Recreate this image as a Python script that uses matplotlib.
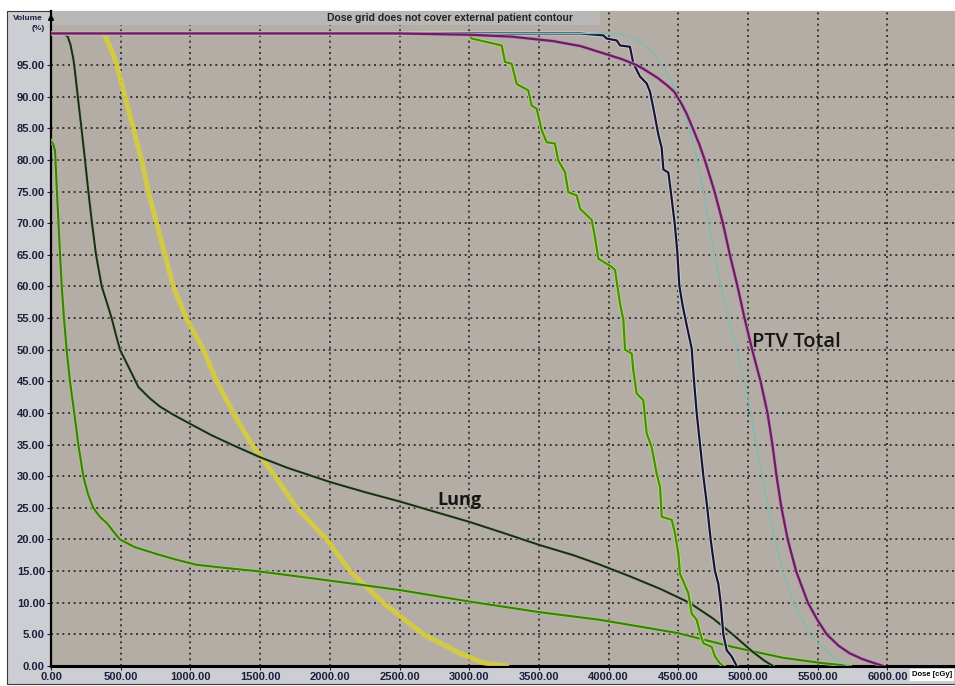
"""Dose volume histogram screenshot, redrawn with matplotlib."""

import matplotlib

matplotlib.use("Agg")

import matplotlib.pyplot as plt
import matplotlib.patheffects as pe
from matplotlib.patches import Rectangle
import numpy as np


# dose in cGy, volume in %
PTV_DOSE = [0, 2500, 3000, 3300, 3600, 3800, 4000, 4100, 4200, 4250, 4350, 4420, 4470,
            4520, 4560, 4600, 4650, 4690, 4760, 4820, 4870, 4925, 4975, 5030, 5090, 5140,
            5175, 5205, 5240, 5285, 5345, 5430, 5500, 5565, 5650, 5730, 5820, 5900, 5970]
PTV_VOL = [100, 100, 99.8, 99.5, 98.8, 98, 96.6, 95.9, 95, 94.4, 93, 91.8, 90.8,
           89, 87.3, 85.2, 82.5, 80, 75, 70, 65, 60, 55, 50, 45, 40,
           35, 30, 25, 20, 15, 10, 7.2, 5, 3.2, 2, 1.1, 0.5, 0]

CTV_DOSE = [0, 4080, 4200, 4300, 4400, 4460, 4500, 4540, 4580, 4635, 4680, 4720, 4760,
            4805, 4860, 4920, 4975, 5020, 5060, 5100, 5144, 5194, 5251, 5330, 5445,
            5520, 5588, 5650, 5720]
CTV_VOL = [100, 100, 99, 97.5, 94.5, 92, 90, 87.5, 85, 80, 75, 70, 65,
           60, 55, 50, 45, 40, 35, 30, 25, 20, 15, 10, 5,
           3.2, 2, 0.8, 0]

GTV_DOSE = [0, 3795, 3962, 3986, 4058, 4082, 4153, 4177, 4225, 4273, 4297, 4321, 4357,
            4381, 4393, 4429, 4453, 4476, 4493, 4507, 4531, 4560, 4596, 4613, 4632,
            4656, 4680, 4708, 4732, 4763, 4787, 4804, 4823, 4847, 4883, 4919]
GTV_VOL = [100, 100, 99.7, 99.2, 98.9, 98.1, 97.9, 95.3, 93.2, 92.1, 90.8, 88.2, 84.0,
           81.9, 78.5, 78.0, 73.8, 69.6, 65.4, 60.2, 57.0, 53.9, 50.2, 45, 40,
           35, 30, 25, 20, 15, 13, 10, 5, 2.5, 1.5, 0]

CORD_DOSE = [0, 2994, 3018, 3233, 3257, 3305, 3341, 3424, 3448, 3484, 3520, 3556, 3615,
             3639, 3687, 3711, 3771, 3795, 3879, 3902, 3926, 4022, 4046, 4082, 4106,
             4118, 4166, 4177, 4201, 4249, 4273, 4309, 4345, 4369, 4381, 4453, 4476,
             4500, 4512, 4572, 4596, 4632, 4656, 4680, 4740, 4763, 4799, 4823]
CORD_VOL = [100, 100, 99.2, 98.1, 95.5, 95.2, 92.0, 91.0, 88.6, 88.1, 84.7, 82.8, 82.6,
            79.9, 78.1, 74.9, 74.4, 72.3, 70.5, 67.8, 64.4, 63.1, 62.6, 57.3, 54.7,
            50, 49.4, 46.8, 43.1, 42.0, 36.8, 34.6, 30.4, 28.3, 23.6, 23.1, 21.0,
            17.8, 14.6, 11.5, 8.3, 7.3, 5.2, 3.6, 3.0, 1.5, 0.4, 0]

LUNG_DOSE = [0, 90, 120, 140, 160, 172, 196, 220, 244, 268, 292, 323, 364, 400, 435,
             470, 495, 567, 627, 710, 782, 880, 997, 1150, 1306, 1500, 1700, 2000,
             2250, 2503, 2750, 2999, 3250, 3508, 3750, 3940, 4150, 4370, 4580, 4750,
             4890, 5036, 5120, 5180]
LUNG_VOL = [100, 100, 99.5, 98.2, 96, 94, 89.3, 84.7, 80, 75, 70.4, 65, 60, 57.5, 55,
            52, 50, 46.8, 44.1, 42.3, 41, 39.7, 38.3, 36.5, 34.9, 33, 31.3, 29.1,
            27.5, 26, 24.4, 22.8, 21, 19.1, 17.5, 16, 14.2, 12.2, 10, 7.5,
            5, 2.2, 0.8, 0]

HEART_DOSE = [0, 15, 29, 41, 53, 65, 77, 84, 93, 112, 136, 167, 196, 232, 265, 303, 350,
              400, 450, 495, 600, 758, 900, 1045, 1250, 1476, 2001, 2504, 2999, 3508,
              3938, 4498, 4893, 5251, 5517, 5730]
HEART_VOL = [83, 82.5, 81.5, 75.7, 70.4, 65, 60, 57.9, 55, 50, 45, 40, 35, 30, 27.2, 25, 23.6,
             22.6, 21.2, 20, 18.8, 17.7, 16.8, 16, 15.5, 15, 13.5, 12, 10.2, 8.5,
             7.3, 5.2, 3, 1.3, 0.5, 0]

ESO_DOSE = [387, 435, 471, 531, 590, 650, 698, 758, 818, 877, 970, 1093, 1189, 1308,
            1440, 1607, 1763, 1978, 2145, 2382, 2671, 2934, 3100, 3270]
ESO_VOL = [99.7, 97.3, 95.1, 90, 85, 80, 75, 70, 65, 60, 55, 50, 45, 40,
           35, 30, 25, 20, 15, 10, 5, 2, 0.5, 0]

X_TICKS = np.arange(0, 6001, 500)
Y_TICKS = np.arange(0, 96, 5)

W, H = 955, 686
X_MAX = (955 - 51) / 0.1394
Y_MAX = 103.55

PLOT_BG = "#B3ADA5"
FRAME_BG = "#CDCED3"
TICK_COLOR = "#1B1F3A"
TICK_FONT = "Liberation Sans"


def halo(color, width):
    return [pe.Stroke(linewidth=width, foreground=color), pe.Normal()]


def main():
    fig = plt.figure(figsize=(W / 100, H / 100), dpi=100, facecolor="white")
    fig.patches.append(Rectangle((7 / W, 2 / H), 1 - 7 / W, 1 - 13 / H, transform=fig.transFigure,
                                 facecolor=FRAME_BG, edgecolor="#3a3a3a", linewidth=0.8, zorder=0))

    ax = fig.add_axes([51 / W, 20 / H, (W - 51) / W, 655 / H])
    ax.set_zorder(2)
    ax.set_facecolor(PLOT_BG)
    ax.set_xlim(0, X_MAX)
    ax.set_ylim(0, Y_MAX)

    ax.set_xticks(X_TICKS)
    ax.set_xticklabels([f"{v:.2f}" for v in X_TICKS])
    ax.set_yticks(Y_TICKS)
    ax.set_yticklabels([f"{v:.2f}" for v in Y_TICKS])
    ax.tick_params(axis="both", labelsize=8, colors=TICK_COLOR, length=3, width=0.8)
    ax.tick_params(axis="x", pad=1.5)
    ax.tick_params(axis="y", pad=1.5)
    for lab in ax.get_xticklabels() + ax.get_yticklabels():
        lab.set_fontweight("bold")
        lab.set_family(TICK_FONT)

    ax.grid(True, color="#262626", linestyle=(0, (1.2, 2.2)), linewidth=1.2)
    ax.set_axisbelow(True)
    for side in ("top", "right"):
        ax.spines[side].set_visible(False)
    ax.spines["left"].set_color("black")
    ax.spines["left"].set_linewidth(1.6)
    ax.spines["bottom"].set_color("black")
    ax.spines["bottom"].set_linewidth(2.2)
    ax.annotate("", xy=(0, Y_MAX), xytext=(0, Y_MAX - 2.5),
                arrowprops=dict(arrowstyle="-|>", color="black", lw=1.2, mutation_scale=8),
                annotation_clip=False)

    # message banner along the top of the plot area
    ax.add_patch(Rectangle((0, 101.4), (600 - 51) / 0.1394, Y_MAX - 101.4,
                           facecolor="#B9B8B7", edgecolor="none", zorder=1))
    ax.text((450 - 51) / 0.1394, 102.4,
            "Dose grid does not cover external patient contour", fontsize=7.5,
            family=TICK_FONT, fontweight="bold", color="#222222",
            ha="center", va="center", zorder=8)

    ax.plot(ESO_DOSE, ESO_VOL, color="#D6CE3C", linewidth=3.6, alpha=0.9,
            solid_capstyle="round", zorder=3)
    ax.plot(HEART_DOSE, HEART_VOL, color="#3D7A1E", linewidth=1.5,
            path_effects=halo("#A6D45C", 2.6), zorder=4)
    ax.plot(LUNG_DOSE, LUNG_VOL, color="#1C2A18", linewidth=1.4,
            path_effects=halo("#9DB58A", 2.2), zorder=4)
    ax.plot(CORD_DOSE, CORD_VOL, color="#4B8A18", linewidth=1.6,
            path_effects=halo("#B2E060", 2.8), zorder=4)
    ax.plot(GTV_DOSE, GTV_VOL, color="#17172A", linewidth=1.6,
            path_effects=halo("#D2CCE8", 2.8), zorder=5)
    ax.plot(CTV_DOSE, CTV_VOL, color="#7DBDB0", linewidth=1.0, zorder=5)
    ax.plot(PTV_DOSE, PTV_VOL, color="#6A1E5C", linewidth=1.6,
            path_effects=halo("#C48CC2", 2.6), zorder=6)

    ax.text((752 - 51) / 0.1394, (666 - 342) / 6.33, "PTV Total", fontsize=14.5,
            family="Open Sans", fontweight="semibold", color="#151515", va="center", zorder=7)
    ax.text((437 - 51) / 0.1394, (666 - 500) / 6.33, "Lung", fontsize=13,
            family="Open Sans", fontweight="bold", color="#151515", va="center", zorder=7)

    fig.text(13 / W, 1 - 19 / H, "Volume", fontsize=6, fontweight="bold",
             family=TICK_FONT, color=TICK_COLOR, va="center")
    fig.text(45 / W, 1 - 28 / H, "(%)", fontsize=6, fontweight="bold",
             family=TICK_FONT, color=TICK_COLOR, va="center", ha="right")
    fig.text(912 / W, 1 - 675 / H, "Dose [cGy]", fontsize=5.5, fontweight="bold",
             family=TICK_FONT, color="black", va="center",
             bbox=dict(boxstyle="square,pad=0.3", facecolor="white", edgecolor="none"))

    fig.savefig("out.png", dpi=100, facecolor="white")
    plt.close(fig)


if __name__ == "__main__":
    main()
